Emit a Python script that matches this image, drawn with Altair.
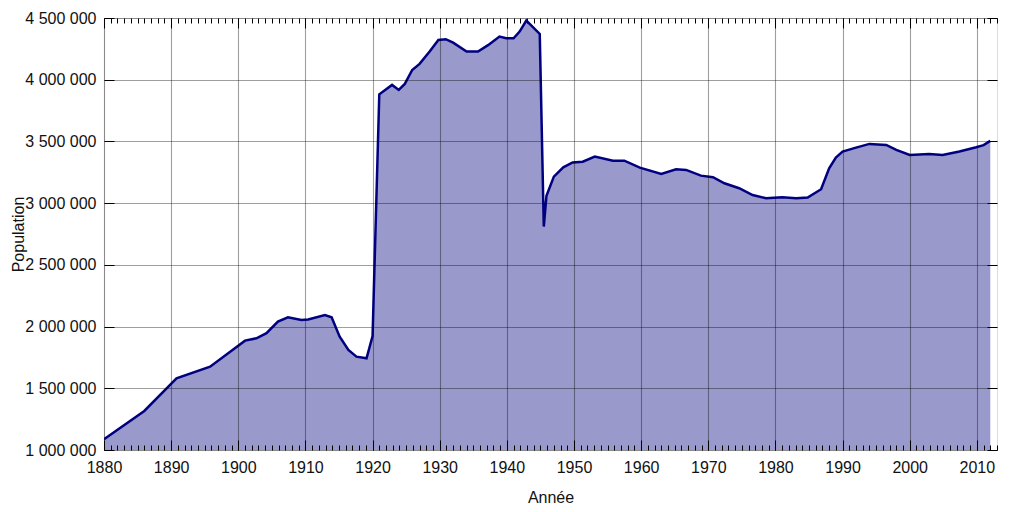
import altair as alt
import pandas as pd

years = [1880, 1886, 1890.8, 1895.8, 1901, 1902.7, 1904.2, 1905.9, 1907.4, 1909.4,
         1910.4, 1912.9, 1913.9, 1915.1, 1916.4, 1917.6, 1919.1, 1920, 1921, 1922.9,
         1923.9, 1924.8, 1925.9, 1927, 1928.5, 1929.8, 1930.9, 1932, 1934, 1935.7,
         1937.2, 1938.9, 1939.9, 1941, 1941.9, 1942.9, 1944.9, 1945.5, 1945.9, 1947,
         1948.4, 1949.8, 1951.3, 1953.1, 1955.8, 1957.5, 1959.8, 1963, 1965.2, 1966.7,
         1968.9, 1970.7, 1972.4, 1974.6, 1976.6, 1978.6, 1981, 1983.1, 1984.8, 1986.8,
         1988, 1989, 1990, 1992, 1994, 1996.5, 1998, 2000, 2002.9, 2004.9, 2007.4,
         2009.9, 2011, 2012]
population = [1087000, 1316000, 1581000, 1675000, 1886000, 1905000, 1946000, 2040000, 2075000, 2053000,
              2058000, 2094000, 2075000, 1918000, 1810000, 1756000, 1743000, 1924000, 3882000, 3958000,
              3917000, 3966000, 4079000, 4128000, 4228000, 4322000, 4328000, 4300000, 4228000, 4228000,
              4280000, 4350000, 4336000, 4336000, 4390000, 4479000, 4371000, 2810000, 3060000, 3215000,
              3290000, 3330000, 3336000, 3377000, 3344000, 3344000, 3288000, 3237000, 3275000, 3269000,
              3223000, 3210000, 3161000, 3121000, 3066000, 3040000, 3048000, 3040000, 3045000, 3113000,
              3283000, 3370000, 3418000, 3450000, 3480000, 3472000, 3431000, 3390000, 3399000, 3390000, 3418000,
              3453000, 3470000, 3504000]

decades = list(range(1880, 2011, 10))
all_years = list(range(1880, 2014))
y_ticks = [1000000, 1500000, 2000000, 2500000, 3000000, 3500000, 4000000, 4500000]
baseline = 1000000

df = pd.DataFrame({"year": years, "pop": population})

xs = alt.Scale(domain=[1880, 2013], nice=False, zero=False)
ys = alt.Scale(domain=[1000000, 4500000], nice=False, zero=False)

label_expr = "replace(format(datum.value, ','), regexp(',', 'g'), ' ')"

main = alt.Chart(df).mark_area(
    color="#9999cc", opacity=1, clip=True,
    line={"color": "#000080", "strokeWidth": 2.5},
).encode(
    x=alt.X("year:Q", scale=xs, axis=alt.Axis(
        values=decades, format="d", ticks=False, domain=False, grid=True,
        gridColor="black", gridOpacity=0.38, gridWidth=1.1,
        labelFontSize=16, labelPadding=9, labelFlush=False, labelOverlap=False,
        labelColor="#111", title="Année", titleFontSize=16, titleFontWeight="normal",
        titleColor="#111", titleY=47, titleBaseline="middle", zindex=1)),
    y=alt.Y("pop:Q", scale=ys, axis=alt.Axis(
        values=y_ticks, labelExpr=label_expr, ticks=False, domain=False, grid=True,
        gridColor="black", gridOpacity=0.38, gridWidth=1.1,
        labelFontSize=16, labelPadding=8, labelOverlap=False, labelColor="#111",
        title="Population", titleFontSize=16, titleFontWeight="normal", titleColor="#111",
        titleX=-86, titleY=216, titleAngle=270, titleAlign="center",
        titleBaseline="middle", zindex=1)),
    y2=alt.datum(baseline),
)


def tick_layer(x_axis, y_axis):
    return alt.Chart(df).mark_line(opacity=0).encode(
        x=alt.X("year:Q", scale=xs, axis=x_axis),
        y=alt.Y("pop:Q", scale=ys, axis=y_axis),
    )


def tick_axis(orient, values, size):
    return alt.Axis(orient=orient, values=values, tickSize=size, offset=-size,
                    labels=False, domain=False, grid=False, title=None,
                    tickColor="black", tickWidth=1, zindex=2)


l2 = tick_layer(tick_axis("bottom", decades, 10), tick_axis("left", y_ticks, 10))
l3 = tick_layer(tick_axis("bottom", all_years, 5), tick_axis("right", y_ticks, 10))
l4 = tick_layer(tick_axis("top", all_years, 5), None)
l5 = tick_layer(tick_axis("top", decades, 10), None)

chart = alt.layer(main, l2, l3, l4, l5).resolve_axis(
    x="independent", y="independent"
).properties(
    width=893, height=432,
    autosize=alt.AutoSizeParams(type="none"),
    padding={"left": 96, "top": 10, "right": 19, "bottom": 55},
).configure_view(
    stroke="black", strokeWidth=2,
).configure(
    font="Liberation Sans",
)

chart.save("out.html", embed_options={"renderer": "svg", "actions": False})
